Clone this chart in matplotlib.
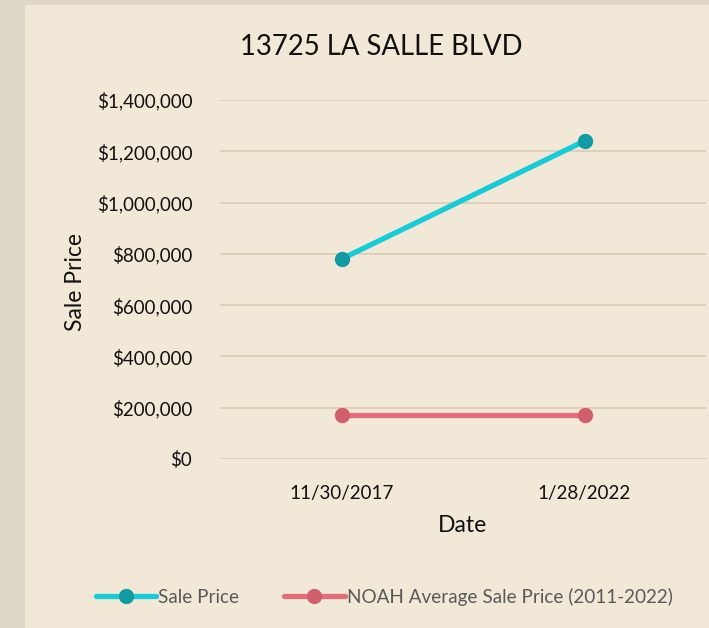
import matplotlib
matplotlib.use("Agg")
import matplotlib.pyplot as plt
from matplotlib.ticker import FuncFormatter

dates = ["11/30/2017", "1/28/2022"]
sale_price = [780000, 1240000]
noah_avg = [170000, 170000]
title = "13725 LA SALLE BLVD"
series_names = ["Sale Price", "NOAH Average Sale Price (2011-2022)"]

plt.rcParams['font.family'] = ['Lato', 'DejaVu Sans']

W, H = 709, 628
fig = plt.figure(figsize=(W/100, H/100), dpi=100)
fig.patch.set_facecolor('#DFD8C8')
# inner panel
fig.patches.append(matplotlib.patches.Rectangle((25/W, 0), 1, 1 - 5/H, transform=fig.transFigure,
                                                facecolor='#F2E8D8', edgecolor='none', zorder=-10))

ax = fig.add_axes([220/W, 1 - 459/H, (706-220)/W, (459-100)/H])
ax.set_facecolor('none')
x = list(range(len(dates)))
ax.plot(x, sale_price, color='#17CBD9', lw=3.8, marker='o', ms=10,
        mfc='#129BA3', mec='#129BA3', label=series_names[0], solid_capstyle='round', zorder=3)
ax.plot(x, noah_avg, color='#E46C77', lw=3.8, marker='o', ms=10,
        mfc='#D0606B', mec='#D0606B', label=series_names[1], solid_capstyle='round', zorder=3)

ax.set_xlim(-0.5, len(dates) - 0.5)
ax.set_ylim(0, 1400000)
ax.set_yticks(range(0, 1400001, 200000))
ax.yaxis.set_major_formatter(FuncFormatter(lambda v, p: "${:,.0f}".format(v)))
ax.set_xticks(x)
ax.set_xticklabels(dates)
ax.grid(axis='y', color='#D9CAB2', lw=1.2)
ax.set_axisbelow(True)
for s in ax.spines.values():
    s.set_visible(False)
ax.tick_params(axis='both', length=0, labelsize=13.5, colors='#111111')
ax.tick_params(axis='y', pad=20)
ax.tick_params(axis='x', pad=19)

fig.text(75/W, 1 - 282/H, "Sale Price", rotation=90, ha='center', va='center', fontsize=16.5, color='#111111')
fig.text(463/W, 1 - 525/H, "Date", ha='center', va='center', fontsize=16.5, color='#111111')
fig.text(381/W, 1 - 47/H, title, ha='center', va='center', fontsize=19.8, color='#111111')

leg = fig.legend(loc='center', bbox_to_anchor=(384/W, 1 - 597/H), ncol=2, frameon=False,
                 fontsize=13.6, handlelength=3.2, handletextpad=0.1, columnspacing=2.4)
for t in leg.get_texts():
    t.set_color('#595959')

fig.savefig("out.png", dpi=100, facecolor=fig.get_facecolor())
